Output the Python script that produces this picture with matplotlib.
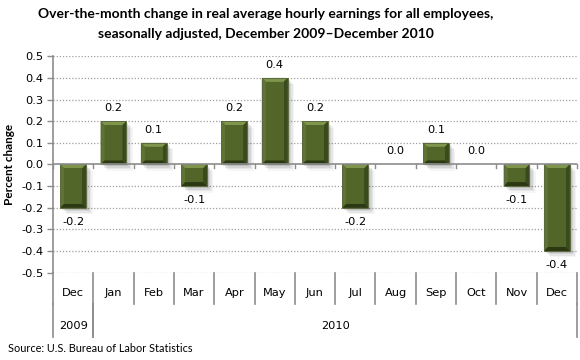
import matplotlib
matplotlib.use("Agg")
import matplotlib.pyplot as plt
from matplotlib.patches import Polygon, Rectangle
from matplotlib.transforms import blended_transform_factory

months = ["Dec", "Jan", "Feb", "Mar", "Apr", "May", "Jun", "Jul", "Aug", "Sep", "Oct", "Nov", "Dec"]
years = ["2009", "2010"]
year_spans = [(0, 0), (1, 12)]
values = [-0.2, 0.2, 0.1, -0.1, 0.2, 0.4, 0.2, -0.2, 0.0, 0.1, 0.0, -0.1, -0.4]
yticks = [0.5, 0.4, 0.3, 0.2, 0.1, 0.0, -0.1, -0.2, -0.3, -0.4, -0.5]

title = ("Over-the-month change in real average hourly earnings for all employees,\n"
         "seasonally adjusted, December 2009\u2013December 2010")
ylabel = "Percent change"
source = "Source: U.S. Bureau of Labor Statistics"

W, H = 580, 360
fig = plt.figure(figsize=(W / 100, H / 100), dpi=100)
x0, x1, ytop, ybot = 53, 577, 56.3, 272.6
ax = fig.add_axes([x0 / W, 1 - ybot / H, (x1 - x0) / W, (ybot - ytop) / H])
n = len(months)
ax.set_xlim(-0.5, n - 0.5)
ax.set_ylim(-0.5, 0.5)

for s in ["top", "right", "bottom"]:
    ax.spines[s].set_visible(False)
ax.spines["left"].set_color("#8c8c8c")
ax.spines["left"].set_linewidth(1.2)

ax.set_xticks([])
ax.set_yticks(yticks)
ax.set_yticklabels([f"{v:.1f}" for v in yticks], fontsize=8.2, color="#000000")
ax.tick_params(axis="y", length=4, color="#8c8c8c", width=1.0, pad=3)

for v in yticks:
    if v != 0:
        ax.axhline(v, color="#a0a0a0", lw=0.9, ls=(0, (1, 1.5)), zorder=0)
ax.axhline(0, color="#8c8c8c", lw=1.2, zorder=3)

px_x = (x1 - x0) / n
px_y = (ybot - ytop) / 1.0
for i in range(n + 1):
    b = -0.5 + i
    ax.plot([b, b], [0, -3.5 / px_y], color="#8c8c8c", lw=1.0, zorder=3, clip_on=False)

w = 0.64
bx = 4.0 / px_x
by = 4.0 / px_y
for i, v in enumerate(values):
    if v == 0:
        continue
    l, r = i - w / 2, i + w / 2
    lo, hi = min(0, v), max(0, v)
    for k, a in enumerate([0.10, 0.08, 0.06, 0.04]):
        off_x = (2 + k * 1.5) / px_x
        off_y = (2 + k * 1.5) / px_y
        ax.add_patch(Rectangle((l + off_x, lo - off_y), w, hi - lo,
                               facecolor="#000000", alpha=a, lw=0, zorder=1))
    ax.add_patch(Rectangle((l, lo), w, hi - lo, facecolor="#52662a", lw=0, zorder=2))
    bxx = min(bx, w / 4)
    byy = min(by, (hi - lo) / 4)
    ax.add_patch(Polygon([(l, hi), (r, hi), (r - bxx, hi - byy), (l + bxx, hi - byy)],
                         closed=True, facecolor="#7e954b", lw=0, zorder=2.1))
    ax.add_patch(Polygon([(l, hi), (l + bxx, hi - byy), (l + bxx, lo + byy), (l, lo)],
                         closed=True, facecolor="#5f7434", lw=0, zorder=2.1))
    ax.add_patch(Polygon([(r, hi), (r - bxx, hi - byy), (r - bxx, lo + byy), (r, lo)],
                         closed=True, facecolor="#3a4a1c", lw=0, zorder=2.1))
    ax.add_patch(Polygon([(l, lo), (l + bxx, lo + byy), (r - bxx, lo + byy), (r, lo)],
                         closed=True, facecolor="#2c3813", lw=0, zorder=2.1))
    ax.add_patch(Rectangle((l + bxx, lo + byy), w - 2 * bxx, hi - lo - 2 * byy,
                           facecolor="#52662a", lw=0, zorder=2.2))
    ax.add_patch(Rectangle((l, lo), w, hi - lo, facecolor="none",
                           edgecolor="#5c6b40", lw=0.7, zorder=2.3))

for i, v in enumerate(values):
    if v >= 0:
        ax.text(i, v + 13 / px_y, f"{v:.1f}", ha="center", va="center", fontsize=8.2, zorder=4)
    else:
        ax.text(i, v - 14 / px_y, f"{v:.1f}", ha="center", va="center", fontsize=8.2, zorder=4)

trans = blended_transform_factory(ax.transData, fig.transFigure)
def fy(p):
    return 1 - p / H
for i in range(n + 1):
    b = -0.5 + i
    ax.plot([b, b], [fy(ybot), fy(304)], transform=trans, color="#8c8c8c", lw=1.2, clip_on=False)
for i, m in enumerate(months):
    ax.text(i, fy(293), m, transform=trans, ha="center", va="center", fontsize=8.2)
for (a, b), yl in zip(year_spans, years):
    ax.plot([a - 0.5, a - 0.5], [fy(304), fy(337)], transform=trans, color="#8c8c8c", lw=1.2, clip_on=False)
    ax.plot([b + 0.5, b + 0.5], [fy(304), fy(337)], transform=trans, color="#8c8c8c", lw=1.2, clip_on=False)
    ax.text((a + b) / 2, fy(326), yl, transform=trans, ha="center", va="center", fontsize=8.2)

fig.text(266 / W, fy(24), title, ha="center", va="center", fontsize=10, fontweight="bold",
         family="Lato", linespacing=1.8)
fig.text(10 / W, fy(164), ylabel, ha="center", va="center", rotation=90, fontsize=8.5,
         fontweight="bold", family="Lato")
fig.text(8 / W, fy(348), source, ha="left", va="center", fontsize=7.8, family="Lato")

fig.savefig("out.png", dpi=100)
